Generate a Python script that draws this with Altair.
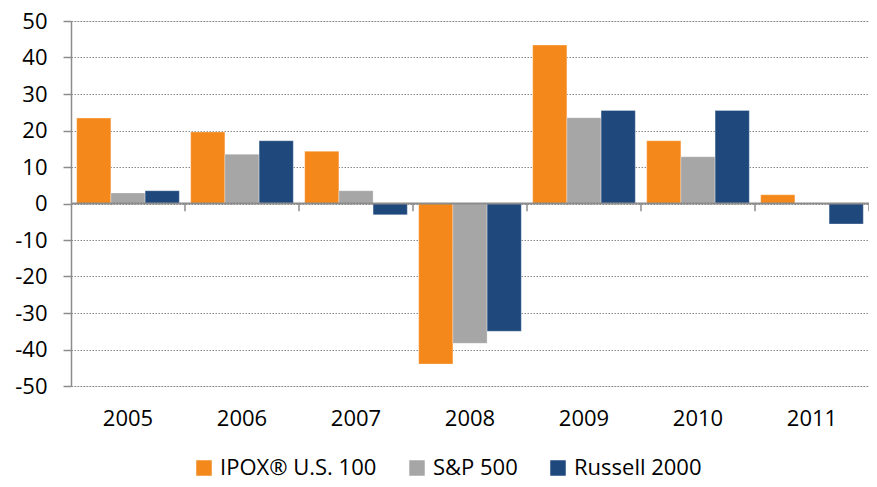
import altair as alt
import pandas as pd

years = ["2005", "2006", "2007", "2008", "2009", "2010", "2011"]
series = ["IPOX® U.S. 100", "S&P 500", "Russell 2000"]
ipox = [23.4, 19.6, 14.3, -44.0, 43.4, 17.2, 2.4]
sp500 = [2.9, 13.5, 3.5, -38.3, 23.5, 12.8, 0.0]
russell = [3.5, 17.2, -3.1, -35.0, 25.5, 25.5, -5.6]
colors = ["#F5881B", "#A6A6A6", "#1F497D"]
y_ticks = [-50, -40, -30, -20, -10, 0, 10, 20, 30, 40, 50]
boundaries = [1, 2, 3, 4, 5, 6, 7]

rows = []
for s, vals in zip(series, [ipox, sp500, russell]):
    for y, v in zip(years, vals):
        rows.append({"year": y, "series": s, "value": v})
df = pd.DataFrame(rows)

W, H = 798, 365
FONT = "Open Sans"
AXIS_GRAY = "#8C8C8C"

y_axis = alt.Axis(title=None, values=y_ticks, labelExpr="'' + datum.value",
                  labelOverlap=False, labelBound=False,
                  grid=True, gridColor="#8A8A8A", gridDash=[1.5, 1.5], gridWidth=1.2,
                  domain=True, domainColor=AXIS_GRAY, domainWidth=1.5,
                  ticks=True, tickColor=AXIS_GRAY, tickSize=8, tickWidth=1.5,
                  labelFont=FONT, labelFontSize=22, labelColor="#000000",
                  labelPadding=16)
y_scale = alt.Scale(domain=[-50, 50], nice=False, zero=False)

bars = alt.Chart(df).mark_bar(stroke="white", strokeWidth=0.5, strokeOpacity=0.6).encode(
    x=alt.X("year:N", sort=years,
            scale=alt.Scale(paddingInner=0.1, paddingOuter=0.05),
            axis=alt.Axis(title=None, domain=False, ticks=False, labelAngle=0,
                          labelFont=FONT, labelFontSize=22, labelColor="#000000",
                          labelPadding=22, labelBaseline="top")),
    xOffset=alt.XOffset("series:N", sort=series),
    y=alt.Y("value:Q", scale=y_scale, axis=y_axis),
    color=alt.Color("series:N",
                    scale=alt.Scale(domain=series, range=colors),
                    legend=alt.Legend(title=None, orient="none", direction="horizontal",
                                      legendX=122, legendY=436,
                                      symbolType="square", symbolSize=240,
                                      symbolStrokeWidth=0, labelFont=FONT,
                                      labelFontSize=22, labelColor="#000000",
                                      labelLimit=400,
                                      labelOffset=5, columnPadding=29)),
)

zero = alt.Chart(pd.DataFrame({"z": [0]})).mark_rule(color=AXIS_GRAY, strokeWidth=2).encode(
    y=alt.Y("z:Q", scale=y_scale, axis=y_axis),
    x=alt.value(0),
    x2=alt.value(W),
)

ticks_df = pd.DataFrame({"b": boundaries, "lo": [0] * 7, "hi": [-2.1] * 7})
ticks = alt.Chart(ticks_df).mark_rule(color=AXIS_GRAY, strokeWidth=1.5).encode(
    x=alt.X("b:Q", scale=alt.Scale(domain=[0, 7]), axis=None),
    y=alt.Y("lo:Q", scale=y_scale, axis=y_axis),
    y2="hi:Q",
)

chart = alt.layer(bars, zero, ticks).resolve_scale(x="independent").properties(
    width=W, height=H,
    autosize=alt.AutoSizeParams(type="none"),
    padding={"left": 63, "top": 13, "right": 0, "bottom": 93},
).configure_view(strokeWidth=0).configure_axis(labelOverlap=False).configure(background="white")

chart.save("out.html", embed_options={"renderer": "svg", "actions": False})
